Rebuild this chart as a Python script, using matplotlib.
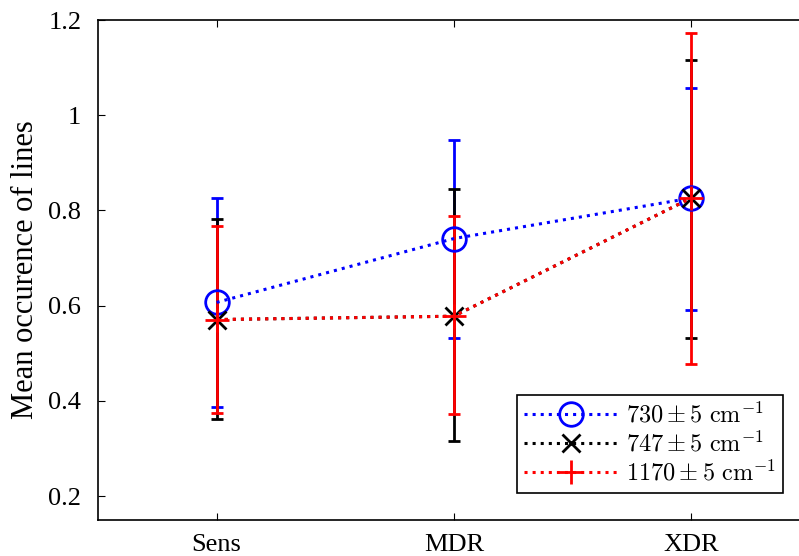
import numpy as np
import matplotlib.pyplot as plt
from matplotlib.lines import Line2D

plt.rcParams['font.family'] = ['Liberation Serif', 'DejaVu Serif']
plt.rcParams['mathtext.fontset'] = 'cm'

# categories and values
groups = ['Sens', 'MDR', 'XDR']
x = np.arange(1, len(groups) + 1)

mean_730 = [0.607, 0.741, 0.826]
top_730 = [0.827, 0.948, 1.057]
bot_730 = [0.387, 0.533, 0.592]

mean_747 = [0.571, 0.578, 0.826]
top_747 = [0.783, 0.846, 1.116]
bot_747 = [0.362, 0.315, 0.533]

mean_1170 = [0.571, 0.578, 0.826]
top_1170 = [0.768, 0.789, 1.172]
bot_1170 = [0.374, 0.372, 0.478]

labels = [r'$730 \pm 5\ \mathrm{cm}^{-1}$',
          r'$747 \pm 5\ \mathrm{cm}^{-1}$',
          r'$1170 \pm 5\ \mathrm{cm}^{-1}$']

fig = plt.figure(figsize=(7.99, 5.56), dpi=100)
ax = fig.add_axes([0.1227, 0.0647, 0.8905, 0.8993])

series = [
    (mean_730, top_730, bot_730, 'blue', 'o', 17),
    (mean_747, top_747, bot_747, 'black', 'x', 13),
    (mean_1170, top_1170, bot_1170, 'red', '+', 17),
]
handles = []
for (m, t, b, c, mk, ms), lab in zip(series, labels):
    m = np.array(m)
    err = [m - np.array(b), np.array(t) - m]
    ax.errorbar(x, m, yerr=err, color=c, ls=':', lw=2.2, marker=mk, ms=ms,
                mfc='none', mec=c, mew=2, capsize=4, capthick=2,
                elinewidth=2)
    handles.append(Line2D([], [], color=c, ls=':', lw=2.2, marker=mk, ms=ms,
                          mfc='none', mec=c, mew=2, label=lab))

ax.set_xlim(0.5, 3.5)
ax.set_ylim(0.15, 1.2)
ax.set_xticks(x)
ax.set_xticklabels(groups)
ax.set_yticks([0.2, 0.4, 0.6, 0.8, 1.0, 1.2])
ax.set_yticklabels(['0.2', '0.4', '0.6', '0.8', '1', '1.2'])
ax.tick_params(labelsize=19, direction='in', length=5, top=True, right=True)
ax.tick_params(axis='y', pad=12)
ax.tick_params(axis='x', pad=10)
ax.set_ylabel('Mean occurence of lines', fontsize=22, labelpad=6)
for s in ax.spines.values():
    s.set_linewidth(1.2)

leg = ax.legend(handles=handles, loc='lower right', bbox_to_anchor=(0.963, 0.054),
                borderaxespad=0, fontsize=17.5, fancybox=False,
                edgecolor='black', framealpha=1, handlelength=3.9,
                borderpad=0.3, labelspacing=0.15, handletextpad=0.3)
leg.get_frame().set_linewidth(1.2)

fig.savefig('out.png', dpi=100)
